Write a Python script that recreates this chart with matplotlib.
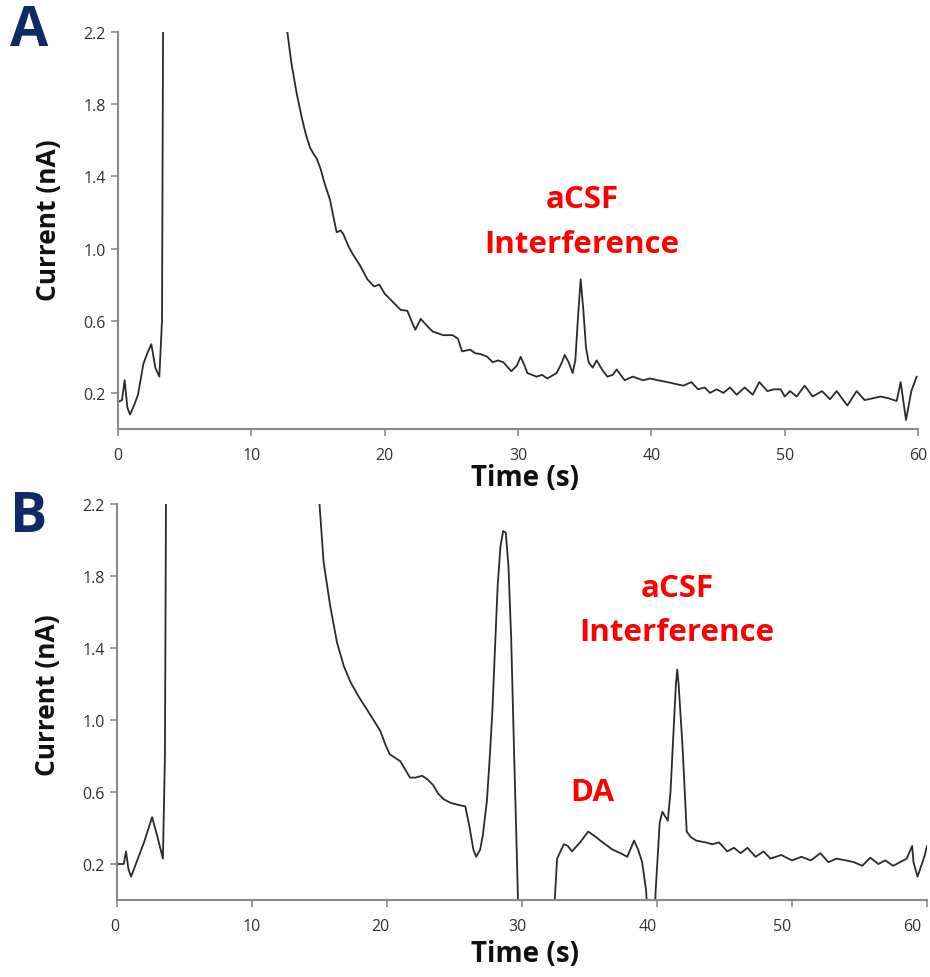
import matplotlib
matplotlib.use("Agg")
import matplotlib.pyplot as plt
import matplotlib.transforms as mtransforms

# ---------------- data ----------------
a_time = [0, 0.3, 0.5, 0.7, 0.9, 1.2, 1.5, 1.9, 2.2, 2.5, 2.8, 3.1, 3.3, 3.4,
          12.3, 12.7, 13.0, 13.4, 13.8, 14.1, 14.4, 14.7, 14.9, 15.2, 15.5, 15.9, 16.2, 16.4, 16.7, 16.9, 17.3, 17.6,
          18.2, 18.7, 19.2, 19.6, 20.0, 20.4, 20.8, 21.2, 21.7, 22.0, 22.3, 22.7,
          23.2, 23.6, 24.0, 24.4, 25.1, 25.5, 25.8, 26.4, 26.8, 27.2, 27.7, 28.1,
          28.5, 28.9, 29.5, 29.9, 30.2, 30.5, 30.7, 31.4, 31.8, 32.2, 32.9, 33.3, 33.5, 33.8, 34.1, 34.3,
          34.5, 34.7, 34.9, 35.1, 35.3, 35.6, 35.9, 36.3, 36.7, 37.1, 37.4, 37.7, 38.0, 38.6, 39.0, 39.4, 39.9, 40.5,
          41.2, 41.8, 42.4, 43.0, 43.5, 44.0, 44.4, 44.9, 45.4, 45.9, 46.4, 47.0,
          47.6, 48.1, 48.7, 49.2, 49.7, 50.0, 50.4, 50.9, 51.5, 52.1, 52.8, 53.4,
          53.9, 54.7, 55.4, 56.0, 56.6, 57.2, 57.8, 58.4, 58.7, 59.1, 59.5, 59.9]
a_current = [0.15, 0.16, 0.27, 0.12, 0.08, 0.13, 0.19, 0.36, 0.42, 0.47, 0.34, 0.29, 0.60, 2.6,
             2.6, 2.2, 2.03, 1.86, 1.72, 1.63, 1.56, 1.52, 1.50, 1.44, 1.36, 1.27, 1.16, 1.09, 1.10, 1.08, 1.01, 0.97,
             0.90, 0.83, 0.79, 0.80, 0.75, 0.72, 0.69, 0.66, 0.655, 0.60, 0.55, 0.61,
             0.57, 0.54, 0.53, 0.52, 0.52, 0.50, 0.43, 0.44, 0.42, 0.415, 0.40, 0.37,
             0.38, 0.37, 0.32, 0.35, 0.40, 0.35, 0.31, 0.29, 0.30, 0.28, 0.31, 0.37, 0.41, 0.37, 0.31, 0.38,
             0.62, 0.83, 0.66, 0.45, 0.37, 0.34, 0.38, 0.33, 0.29, 0.30, 0.33, 0.30, 0.27, 0.29, 0.28, 0.27, 0.28, 0.27,
             0.26, 0.25, 0.24, 0.26, 0.22, 0.23, 0.20, 0.22, 0.20, 0.23, 0.19, 0.23,
             0.19, 0.26, 0.21, 0.22, 0.22, 0.18, 0.21, 0.18, 0.24, 0.18, 0.21, 0.165,
             0.21, 0.13, 0.21, 0.16, 0.17, 0.18, 0.17, 0.155, 0.26, 0.05, 0.21, 0.29]

b_time = [0, 0.3, 0.5, 0.67, 0.85, 1.04, 1.5, 2.0, 2.6, 3.0, 3.4, 3.55, 3.65,
          14.9, 15.0, 15.3, 15.8, 16.3, 16.8, 17.3, 17.9, 18.5, 19.0, 19.5, 19.9,
          20.2, 21.0, 21.7, 22.1, 22.6, 23.0, 23.4, 23.8, 24.2, 24.7, 25.2, 25.8,
          26.1, 26.4, 26.6, 26.9, 27.1, 27.4, 27.6, 27.8, 28.0, 28.2, 28.4, 28.6, 28.8, 29.0,
          29.2, 29.4, 29.6, 29.8, 32.2, 32.6, 33.1, 33.4, 33.7, 34.3, 34.9, 35.3, 35.8,
          36.7, 37.3, 37.8, 38.3, 38.6, 38.9, 39.2, 39.4, 39.7, 39.9, 40.2, 40.4,
          40.8, 41.0, 41.2, 41.4, 41.5, 41.6, 41.9, 42.2, 42.5, 42.9, 43.6, 44.1, 44.6, 45.2, 45.7,
          46.2, 46.7, 47.3, 47.9, 48.4, 49.2, 50.0, 50.7, 51.4, 52.1, 52.7, 53.3,
          54.0, 54.6, 55.2, 55.8, 56.4, 56.9, 57.5, 58.5, 58.9, 59.0, 59.3, 59.8, 60.0]
b_current = [0.20, 0.20, 0.20, 0.27, 0.17, 0.13, 0.22, 0.32, 0.46, 0.35, 0.23, 0.80, 2.6,
             2.6, 2.2, 1.88, 1.63, 1.43, 1.30, 1.21, 1.13, 1.06, 1.00, 0.94, 0.86,
             0.81, 0.77, 0.68, 0.68, 0.69, 0.67, 0.64, 0.59, 0.56, 0.54, 0.53, 0.52,
             0.41, 0.28, 0.24, 0.28, 0.36, 0.55, 0.78, 1.04, 1.40, 1.75, 1.96, 2.05, 2.04, 1.85,
             1.45, 0.86, 0.30, -0.3, -0.3, 0.23, 0.31, 0.30, 0.27, 0.32, 0.38, 0.36, 0.33,
             0.28, 0.26, 0.24, 0.33, 0.28, 0.21, 0.05, -0.3, -0.3, 0.05, 0.43, 0.49,
             0.44, 0.60, 0.90, 1.20, 1.28, 1.20, 0.84, 0.38, 0.35, 0.33, 0.32, 0.31, 0.32, 0.27, 0.29,
             0.26, 0.29, 0.24, 0.27, 0.23, 0.25, 0.22, 0.24, 0.22, 0.26, 0.21, 0.23,
             0.22, 0.21, 0.19, 0.235, 0.20, 0.22, 0.19, 0.23, 0.30, 0.21, 0.13, 0.24, 0.30]

y_ticks = [0.2, 0.6, 1.0, 1.4, 1.8, 2.2]
y_tick_labels = ["0.2", "0.6", "1.0", "1.4", "1.8", "2.2"]
x_ticks = [0, 10, 20, 30, 40, 50, 60]
x_tick_labels = ["0", "10", "20", "30", "40", "50", "60"]

# ---------------- figure ----------------
W, H = 930, 978
fig = plt.figure(figsize=(W / 100, H / 100), dpi=100)
plt.rcParams['font.family'] = ['Open Sans', 'DejaVu Sans']

def px_axes(left, right, top, bottom):
    return fig.add_axes([left / W, 1 - bottom / H, (right - left) / W, (bottom - top) / H])

axA = px_axes(118, 918, 33, 430)
axB = px_axes(117, 927, 505, 901)

spine_col = '#8a8a8a'
for ax, t, c in [(axA, a_time, a_current), (axB, b_time, b_current)]:
    ax.plot(t, c, color='#2b2b2b', lw=1.3)
    ax.set_xlim(0, 60)
    ax.set_ylim(0, 2.2)
    ax.set_yticks(y_ticks)
    ax.set_yticklabels(y_tick_labels)
    ax.set_xticks(x_ticks)
    ax.set_xticklabels(x_tick_labels)
    for s in ['top', 'right']:
        ax.spines[s].set_visible(False)
    for s in ['left', 'bottom']:
        ax.spines[s].set_color(spine_col)
        ax.spines[s].set_linewidth(1.5)
    ax.tick_params(axis='both', direction='out', length=5, width=1.2,
                   color=spine_col, labelsize=11.5, labelcolor='#333333')
    ax.tick_params(axis='x', pad=8)
    ax.tick_params(axis='y', pad=4)
    ax.set_xlabel('Time (s)', fontsize=20, fontweight='bold', color='#111111')
    ax.set_ylabel('Current (nA)', fontsize=19, fontweight='bold', color='#111111')
    ax.xaxis.label.set_va('center')
    ax.yaxis.label.set_va('center')

# panel B tick labels sit slightly left of their ticks in the reference
b_offsets = [-2, 0, -7, -5, -9, -10, -15]
for lab, dx in zip(axB.get_xticklabels(), b_offsets):
    lab.set_transform(lab.get_transform() +
                      mtransforms.ScaledTranslation(dx / 100, 0, fig.dpi_scale_trans))

axA.xaxis.set_label_coords((525 - 118) / 800, (430 - 478) / 397)
axA.yaxis.set_label_coords((48 - 118) / 800, (430 - 220) / 397)
axB.xaxis.set_label_coords((525 - 117) / 810, (901 - 955) / 396)
axB.yaxis.set_label_coords((48 - 117) / 810, (901 - 695) / 396)

def ftext(x, y, s, **kw):
    fig.text(x / W, 1 - y / H, s, ha='center', va='center', **kw)

navy = '#0f2a66'
ftext(29, 32, 'A', fontsize=40, fontweight='bold', color=navy)
ftext(29, 517, 'B', fontsize=40, fontweight='bold', color=navy)

red = '#ff0000'
ftext(582, 200, 'aCSF', fontsize=22.5, fontweight='bold', color=red)
ftext(582, 245, 'Interference', fontsize=22.5, fontweight='bold', color=red)
ftext(677, 589, 'aCSF', fontsize=22.5, fontweight='bold', color=red)
ftext(677, 633, 'Interference', fontsize=22.5, fontweight='bold', color=red)
ftext(592, 793, 'DA', fontsize=22.5, fontweight='bold', color=red)

fig.savefig('out.png', dpi=100)
